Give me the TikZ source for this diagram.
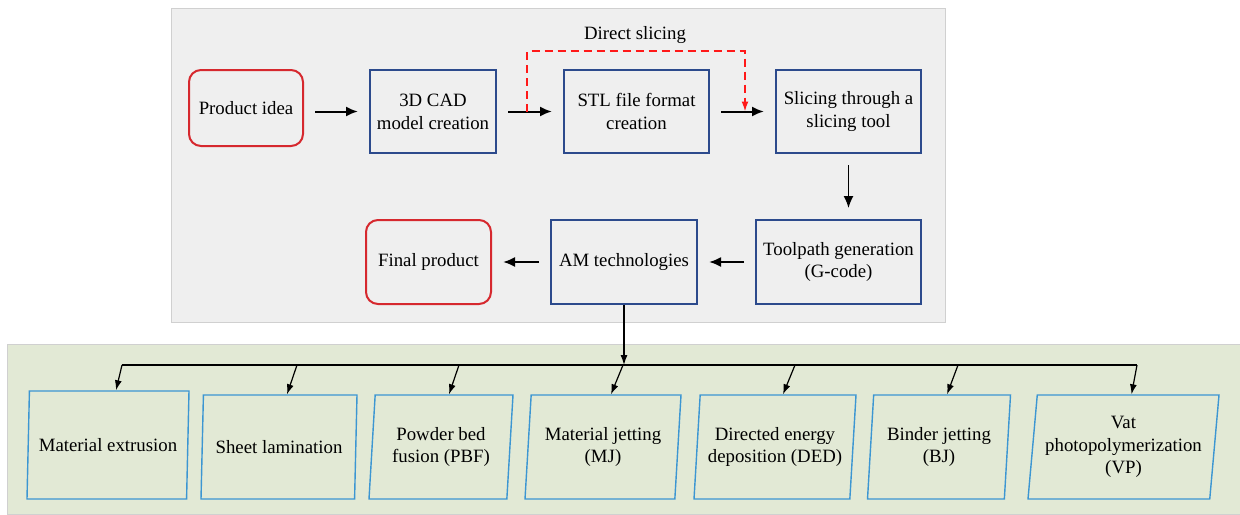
\documentclass[tikz,border=0pt]{standalone}
\usepackage{fontspec}
\setmainfont{Liberation Serif}
\newfontfamily\diagfont{Liberation Serif}
\usetikzlibrary{arrows.meta, shapes.geometric}
\definecolor{procblue}{RGB}{44,74,140}
\definecolor{endred}{RGB}{214,40,46}
\definecolor{techblue}{RGB}{60,150,210}
\definecolor{toppanel}{RGB}{239,239,239}
\definecolor{botpanel}{RGB}{226,233,213}
\definecolor{panelline}{RGB}{208,208,208}
\tikzset{
  proc node/.style={
    draw=procblue,
    line width=1pt,
    align=center,
    inner sep=2pt,
    minimum height=41.5pt,
  },
  end node/.style={
    draw=endred,
    line width=1pt,
    rounded corners=6pt,
    align=center,
    inner sep=2pt,
  },
  tech node/.style={
    draw=techblue,
    line width=0.7pt,
    trapezium,
    trapezium left angle=82,
    trapezium right angle=98,
    trapezium stretches body,
    align=center,
    inner sep=1pt,
    minimum height=52pt,
  },
  flow/.style={-{Latex[length=6pt,width=5pt]}, line width=1pt, shorten <=5.5pt, shorten >=5.5pt},
  branch/.style={-{Latex[length=5pt,width=3.5pt]}, line width=0.6pt},
}

\begin{document}
\begin{tikzpicture}[x=0.5pt, y=-0.5pt, font=\diagfont\fontsize{9.4}{11.4}\selectfont]
      \useasboundingbox (0,0) rectangle (1240,514);
      % panels
      \draw[panelline, fill=toppanel] (171,8) rectangle (945,322);
      \draw[panelline, fill=botpanel] (7,344) rectangle (1240,514);

      \node[end node, minimum width=57pt, minimum height=38pt] (idea) at (246,108) {Product idea};
      \node[proc node, minimum width=63pt] (cad) at (433,111.5) {3D CAD\\model creation};
      \node[proc node, minimum width=72.5pt] (stl) at (636.5,111.5) {STL file format\\creation};
      \node[proc node, minimum width=72.5pt] (slice) at (848.5,111.5) {Slicing through a\\slicing tool};
      \node[proc node, minimum width=82.5pt, minimum height=42pt] (gcode) at (838.5,262) {Toolpath generation\\(G-code)};
      \node[proc node, minimum width=73pt, minimum height=42pt] (am) at (624,262) {AM technologies};
      \node[end node, minimum width=62.5pt, minimum height=42pt] (final) at (428.5,262) {Final product};
      \node (dslabel) at (635,35) {Direct slicing};

      \draw[flow] (idea.east |- cad.west) -- (cad.west);
      \draw[flow] (cad) -- (stl);
      \draw[flow] (stl) -- (slice);
      \draw[flow, line width=0.7pt] (slice.south) -- (slice.south |- gcode.north);
      \draw[flow] (gcode) -- (am);
      \draw[flow] (am) -- (final);

      \coordinate (ds1) at (527,111.5);
      \coordinate (ds2) at (745,111.5);
      \draw[red!90!white, line width=0.8pt, dash pattern=on 4pt off 2.5pt, -{Latex[length=5pt,width=3.5pt]}]
        (ds1) -- (527,51) -| (ds2);

      \node[tech node, minimum width=81pt, minimum height=54pt] (ext) at (108,445) {Material extrusion};
      \node[tech node, minimum width=78pt] (sheet) at (279,447) {Sheet lamination};
      \node[tech node, minimum width=72pt] (pbf) at (441,447) {Powder bed\\fusion (PBF)};
      \node[tech node, minimum width=78pt] (mj) at (603,447) {Material jetting\\(MJ)};
      \node[tech node, minimum width=81pt] (ded) at (775,447) {Directed energy\\deposition (DED)};
      \node[tech node, minimum width=71.5pt] (bj) at (939,447) {Binder jetting\\(BJ)};
      \node[tech node, minimum width=95.5pt] (vp) at (1123.5,447) {Vat\\photopolymerization\\(VP)};

      \coordinate (b1) at (122,365);
      \coordinate (b2) at (297,365);
      \coordinate (b3) at (459,365);
      \coordinate (b4) at (623,365);
      \coordinate (b5) at (795,365);
      \coordinate (b6) at (958,365);
      \coordinate (b7) at (1137,365);

      \draw[branch] (am.south) -- (am.south |- b1);
      \draw[line width=0.6pt] (b1) -- (b7);
      \draw[branch] (b1) -- ([xshift=4pt]ext.north);
      \draw[branch] (b2) -- ([xshift=4pt]sheet.north);
      \draw[branch] (b3) -- ([xshift=4pt]pbf.north);
      \draw[branch] (b4) -- ([xshift=4pt]mj.north);
      \draw[branch] (b5) -- ([xshift=4pt]ded.north);
      \draw[branch] (b6) -- ([xshift=4pt]bj.north);
      \draw[branch] (b7) -- ([xshift=4pt]vp.north);
    \end{tikzpicture}
\end{document}
